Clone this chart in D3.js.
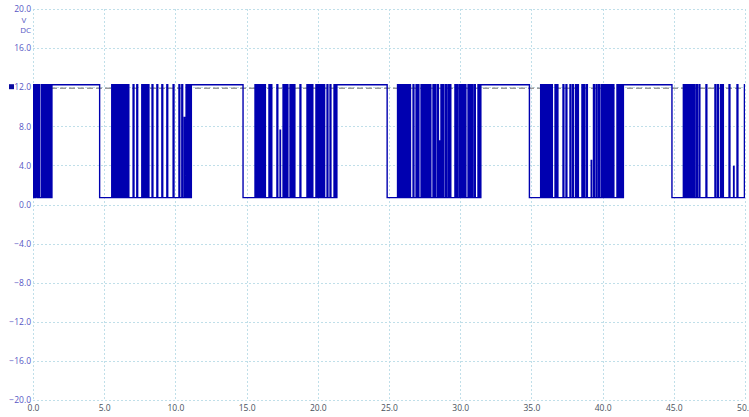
<!DOCTYPE html>
<html>
<head>
<meta charset="utf-8">
<script src="https://cdn.jsdelivr.net/npm/d3@7"></script>
<style>
  html, body { margin: 0; padding: 0; background: #fff; }
  svg { display: block; }
</style>
</head>
<body>
<svg id="chart" width="749" height="417"></svg>
<script>
// ---- data ----
const xTicks = [0, 5, 10, 15, 20, 25, 30, 35, 40, 45, 50];
const yTicks = [20, 16, 12, 8, 4, 0, -4, -8, -12, -16, -20];
const lowLevel = 0.7;
const highLevel = 12.25;
const refLevel = 12.0;
const unitLabels = ["V", "DC"];

// steady high windows [start, end]
const highWindows = [[1.30, 4.68], [11.12, 14.75], [21.33, 24.87], [31.43, 34.86], [41.44, 44.87]];

// start times of short high pulses in each burst
const burst0 = [0.00, 0.07, 0.14, 0.21, 0.27, 0.42, 0.61, 0.77, 0.86, 0.95, 1.07, 1.14, 1.21, 1.27];
const burst1 = [5.53, 5.56, 5.60, 5.63, 5.67, 5.70, 5.74, 5.77, 5.81, 5.84, 5.88, 5.91,
  5.97, 6.04, 6.11, 6.18, 6.34, 6.46, 6.58, 6.67, 7.03, 7.29, 7.64, 7.72, 7.79, 7.92, 8.00, 8.08,
  8.36, 8.70, 9.05, 9.40, 9.84, 10.25, 10.45, 10.75, 10.88, 11.03];
const burst2 = [15.59, 15.63, 15.66, 15.70, 15.73, 15.77, 15.80, 15.84, 15.87, 15.91, 15.94, 15.98,
  16.01, 16.05, 16.08, 16.12, 16.15, 16.19, 16.22, 16.26, 16.57, 16.71, 17.13, 17.56, 17.70, 17.84,
  18.05, 18.19, 18.33, 18.75, 19.24, 19.35, 19.45, 19.59, 19.87, 19.92, 19.97, 20.02, 20.07, 20.12,
  20.17, 20.22, 20.27, 20.32, 20.37, 20.42, 20.65, 20.86, 21.14, 21.28];
const burst3 = [25.60, 25.64, 25.68, 25.72, 25.76, 25.80, 25.84, 25.88, 25.92, 25.96, 26.00, 26.04,
  26.08, 26.12, 26.16, 26.20, 26.24, 26.28, 26.32, 26.36, 26.40, 26.45, 26.69, 26.90, 27.04,
  27.25, 27.30, 27.34, 27.39, 27.43, 27.48, 27.52, 27.57, 27.61, 27.66, 27.70, 27.75, 27.79, 27.84, 27.88,
  28.09, 28.23, 28.41, 28.65, 28.79, 28.97, 29.14, 29.28, 29.63, 29.78, 29.95, 30.09, 30.23, 30.34,
  30.55, 30.69, 30.83, 31.00, 31.25, 31.39];
const burst4 = [35.65, 35.69, 35.73, 35.77, 35.81, 35.85, 35.89, 35.93, 35.97, 36.01, 36.05, 36.09,
  36.13, 36.17, 36.21, 36.25, 36.29, 36.33, 36.37, 36.41, 36.66, 36.80, 37.22, 37.43, 37.71, 37.89,
  38.10, 38.24, 38.55, 38.69, 38.87, 39.36, 39.54, 39.71, 39.89, 40.03, 40.17, 40.31, 40.45, 40.59,
  40.73, 41.01, 41.15, 41.29, 41.40];
const burst5 = [45.67, 45.71, 45.75, 45.79, 45.83, 45.87, 45.91, 45.95, 45.99, 46.03, 46.07, 46.11,
  46.15, 46.19, 46.23, 46.27, 46.31, 46.35, 46.39, 46.42, 46.59, 46.77, 47.26, 47.89, 48.07, 48.28,
  48.42, 48.88, 49.44, 49.96];
// pulses that do not reach the high level: [time, peak]
const partialPulses = [[6.25, 3.0], [10.62, 8.9], [17.35, 7.6], [28.55, 6.5], [39.2, 4.5], [49.2, 3.9]];

// ---- chart ----
const svg = d3.select("#chart");
const x = d3.scaleLinear().domain([0, 50]).range([33, 745]);
const y = d3.scaleLinear().domain([-20, 20]).range([400, 9]);

const gridColor = "#c0dfe9";
const font = "Open Sans, DejaVu Sans, sans-serif";
const g = svg.append("g");

// grid
g.selectAll("line.vg").data(xTicks).join("line")
  .attr("x1", d => Math.round(x(d)) + 0.5).attr("x2", d => Math.round(x(d)) + 0.5)
  .attr("y1", y(20)).attr("y2", y(-20))
  .attr("stroke", gridColor).attr("stroke-width", 1).attr("stroke-dasharray", "2,2");
g.selectAll("line.hg").data(yTicks).join("line")
  .attr("x1", x(0)).attr("x2", x(50))
  .attr("y1", d => Math.round(y(d)) + 0.5).attr("y2", d => Math.round(y(d)) + 0.5)
  .attr("stroke", gridColor).attr("stroke-width", 1).attr("stroke-dasharray", "2,2");

// axes labels via d3 axes
const yAxis = d3.axisLeft(y).tickValues(yTicks).tickFormat(d3.format(".1f")).tickSize(0).tickPadding(2);
const ya = svg.append("g").attr("transform", `translate(${x(0)},0)`).call(yAxis);
ya.select(".domain").remove();
ya.selectAll("text").attr("fill", "#5656c4").style("font-family", font).style("font-size", "8.5px");

const xAxis = d3.axisBottom(x).tickValues(xTicks).tickFormat(d3.format(".1f")).tickSize(0).tickPadding(5);
const xa = svg.append("g").attr("transform", `translate(0,${y(-20)})`).call(xAxis);
xa.select(".domain").remove();
xa.selectAll("text").attr("fill", "#4a525c").style("font-family", font).style("font-size", "8.5px");

// unit labels
svg.append("text").attr("x", 24).attr("y", 23).attr("text-anchor", "middle")
  .attr("fill", "#5656c4").style("font-family", font).style("font-size", "8px").text(unitLabels[0]);
svg.append("text").attr("x", 31).attr("y", 33).attr("text-anchor", "end")
  .attr("fill", "#5656c4").style("font-family", font).style("font-size", "8px").text(unitLabels[1]);

// legend marker
svg.append("rect").attr("x", 9).attr("y", y(refLevel) - 3).attr("width", 5).attr("height", 5).attr("fill", "#0a0aa0");

// reference dashed line
svg.append("line").attr("x1", x(0)).attr("x2", x(50))
  .attr("y1", y(refLevel) + 1).attr("y2", y(refLevel) + 1)
  .attr("stroke", "#9a9a9a").attr("stroke-width", 1.5).attr("stroke-dasharray", "6,3");

// build trace vertices
const events = [];
highWindows.forEach(([a, b]) => events.push({ t: a, e: b, v: highLevel }));
const bursts = [burst0, burst1, burst2, burst3, burst4, burst5];
bursts.forEach(b => {
  b.forEach((t, i) => {
    const next = b[i + 1];
    const w = (next !== undefined && next - t < 0.06) ? 0.018 : 0.06;
    events.push({ t: t, e: t + w, v: highLevel });
  });
});
partialPulses.forEach(([t, p]) => events.push({ t: t, e: t + 0.03, v: p }));
events.sort((a, b) => a.t - b.t);

const pts = [[0, lowLevel]];
events.forEach(ev => {
  pts.push([ev.t, lowLevel], [ev.t, ev.v], [Math.min(ev.e, 50), ev.v], [Math.min(ev.e, 50), lowLevel]);
});
pts.push([50, lowLevel]);

svg.append("defs").append("clipPath").attr("id", "clip")
  .append("rect").attr("x", x(0)).attr("y", y(20)).attr("width", x(50) - x(0)).attr("height", y(-20) - y(20));

const line = d3.line().x(d => x(d[0])).y(d => y(d[1]));
svg.append("path").datum(pts)
  .attr("clip-path", "url(#clip)")
  .attr("d", line)
  .attr("fill", "none")
  .attr("stroke", "#0000b0")
  .attr("stroke-width", 1.4)
  .attr("stroke-linejoin", "miter");
</script>
</body>
</html>
